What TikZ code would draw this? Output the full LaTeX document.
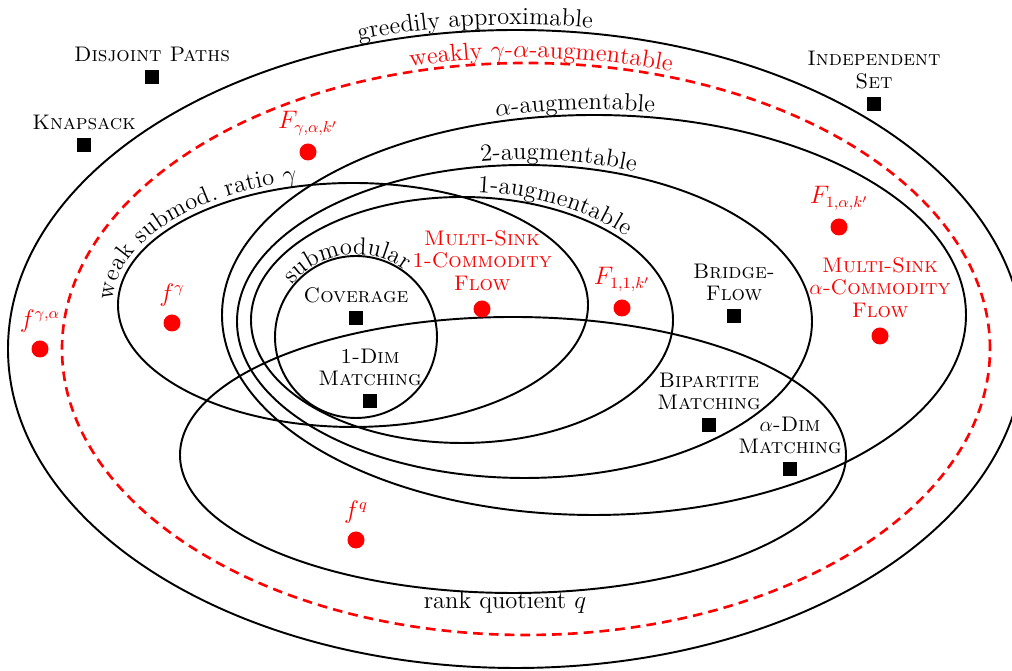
\documentclass[tikz,border=0pt]{standalone}
\usetikzlibrary{positioning,decorations.text}

\begin{document}
\begin{tikzpicture}[x=0.02cm, y=0.02cm,
    every node/.style={align=center, font=\fontsize{12}{13}\selectfont},
    set/.style={line width=1.1pt},
    wset/.style={red, line width=1.5pt, dash pattern=on 5.5pt off 3.5pt},
    prob/.style={fill=black, minimum size=0.28cm, inner sep=0pt},
    fn/.style={circle, fill=red, minimum size=0.34cm, inner sep=0pt},
    plab/.style={inner sep=1pt, font=\fontsize{12}{13}\selectfont\scshape},
    flab/.style={inner sep=1pt, text=red, font=\fontsize{13.5}{15}\selectfont}]

    \useasboundingbox (0,0) rectangle (1012,671);

    % Outer classes
    \draw[set] (516,322) ellipse [x radius=508, y radius=319];
    \draw[wset] (526,322) ellipse [x radius=464, y radius=286];
    \draw[set] (594,356) ellipse [x radius=372, y radius=200];
    \draw[set] (524.5,349.5) ellipse [x radius=287.5, y radius=156.5];
    \draw[set] (462,351) ellipse [x radius=211, y radius=123];

    % Inner classes
    \draw[set] (353,366) ellipse [x radius=235, y radius=122];
    \draw[set] (356,334) circle [radius=81];
    \draw[set] (513,216) ellipse [x radius=333, y radius=138];

    % Class names along the borders
    \path[shift={(516,322)}, decorate, decoration={text along path, text align=center, raise=3pt,
        text={|\fontsize{14}{16}\selectfont|greedily approximable}}]
        (125:508 and 319) arc [start angle=125, end angle=65, x radius=508, y radius=319];
    \path[shift={(526,322)}, decorate, decoration={text along path, text align=center, raise=3pt, text color=red,
        text={|\fontsize{14}{16}\selectfont|weakly {$\gamma$}-{$\alpha$}-augmentable}}]
        (118:464 and 286) arc [start angle=118, end angle=58, x radius=464, y radius=286];
    \path[shift={(594,356)}, decorate, decoration={text along path, text align=center, raise=3pt,
        text={|\fontsize{14}{16}\selectfont|{$\alpha$}-augmentable}}]
        (113:372 and 200) arc [start angle=113, end angle=73, x radius=372, y radius=200];
    \path[shift={(524.5,349.5)}, decorate, decoration={text along path, text align=center, raise=3pt,
        text={|\fontsize{14}{16}\selectfont|2-augmentable}}]
        (103:287.5 and 156.5) arc [start angle=103, end angle=63, x radius=287.5, y radius=156.5];
    \path[shift={(462,351)}, decorate, decoration={text along path, text align=center, raise=3pt,
        text={|\fontsize{14}{16}\selectfont|1-augmentable}}]
        (92:211 and 123) arc [start angle=92, end angle=32, x radius=211, y radius=123];
    \path[shift={(353,366)}, decorate, decoration={text along path, text align=center, raise=3pt,
        text={|\fontsize{14}{16}\selectfont|weak submod. ratio {$\gamma$}}}]
        (185:235 and 122) arc [start angle=185, end angle=100, x radius=235, y radius=122];
    \path[shift={(356,334)}, decorate, decoration={text along path, text align=center, raise=1pt,
        text={|\fontsize{14}{16}\selectfont|submodular}}]
        (150:81) arc [start angle=150, end angle=44, radius=81];
    \node (rq) [font=\fontsize{14}{16}\selectfont] at (505,69) {rank quotient $q$};

    % Problems
    \node (dp) [prob] at (152,594) {};
    \node (dplab) [plab, above=3pt of dp] {Disjoint Paths};
    \node (kn) [prob] at (84,526) {};
    \node (knlab) [plab, above=3pt of kn] {Knapsack};
    \node (is) [prob] at (874,567) {};
    \node (islab) [plab, above=3pt of is] {Independent\\Set};
    \node (cov) [prob] at (356,353) {};
    \node (covlab) [plab, above=3pt of cov] {Coverage};
    \node (odm) [prob] at (370,270) {};
    \node (odmlab) [plab, above=3pt of odm] {1-Dim\\Matching};
    \node (bf) [prob] at (734,355) {};
    \node (bflab) [plab, above=3pt of bf] {Bridge-\\Flow};
    \node (bm) [prob] at (709,246) {};
    \node (bmlab) [plab, above=3pt of bm] {Bipartite\\Matching};
    \node (adm) [prob] at (790,202) {};
    \node (admlab) [plab, above=3pt of adm] {$\alpha$-Dim\\Matching};

    % Functions
    \node (fgak) [fn] at (308,519) {};
    \node (fgaklab) [flab, above=3pt of fgak] {$F_{\gamma,\alpha,k'}$};
    \node (f1ak) [fn] at (839,444) {};
    \node (f1aklab) [flab, above=3pt of f1ak] {$F_{1,\alpha,k'}$};
    \node (f11k) [fn] at (622,363) {};
    \node (f11klab) [flab, above=3pt of f11k] {$F_{1,1,k'}$};
    \node (fg) [fn] at (172,348) {};
    \node (fglab) [flab, above=3pt of fg] {$f^{\gamma}$};
    \node (fga) [fn] at (40,322) {};
    \node (fgalab) [flab, above=3pt of fga] {$f^{\gamma,\alpha}$};
    \node (fq) [fn] at (356,131) {};
    \node (fqlab) [flab, above=3pt of fq] {$f^{q}$};
    \node (ms1) [fn] at (482,362) {};
    \node (ms1lab) [flab, plab, above=4pt of ms1] {Multi-Sink\\1-Commodity\\Flow};
    \node (msa) [fn] at (880,335) {};
    \node (msalab) [flab, plab, above=4pt of msa] {Multi-Sink\\$\alpha$-Commodity\\Flow};

\end{tikzpicture}
\end{document}
